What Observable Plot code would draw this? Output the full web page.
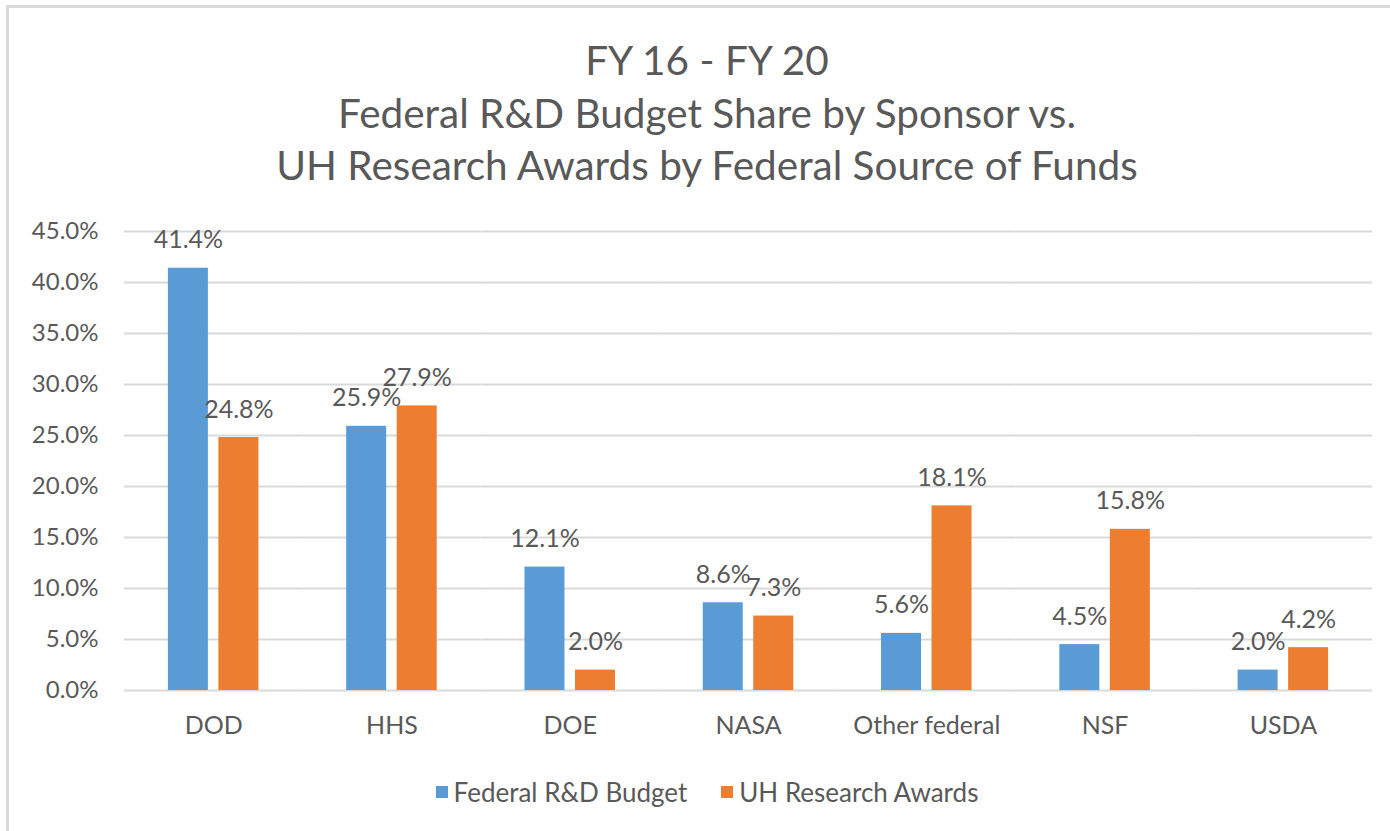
<!DOCTYPE html>
<html>
<head>
<meta charset="utf-8">
<script src="https://cdn.jsdelivr.net/npm/d3@7"></script>
<script src="https://cdn.jsdelivr.net/npm/@observablehq/plot@0.6"></script>
<style>
  html, body { margin: 0; padding: 0; background: #fff; }
  #wrap { position: relative; width: 1390px; height: 831px; overflow: hidden; font-family: Lato, "Noto Sans", sans-serif; color: #595959; }
  #frame { position: absolute; left: 6px; top: 5px; width: 1400px; height: 900px; border-left: 3px solid #d9d9d9; border-top: 3px solid #d9d9d9; box-sizing: border-box; }
  #title { position: absolute; left: 0; top: 34px; width: 1414px; text-align: center; font-size: 40.5px; line-height: 52.5px; }
  #chart { position: absolute; left: 0; top: 200px; }
  #legend { position: absolute; left: 0; top: 772px; width: 1414px; text-align: center; font-size: 26px; line-height: 32px; }
  .key { display: inline-flex; align-items: center; margin: 0 17px; }
  .sw { width: 12px; height: 12px; display: inline-block; margin-right: 6px; }
</style>
</head>
<body>
<div id="wrap">
  <div id="frame"></div>
  <div id="title">FY 16 - FY 20<br>Federal R&amp;D Budget Share by Sponsor vs.<br>UH Research Awards by Federal Source of Funds</div>
  <div id="chart"></div>
  <div id="legend"></div>
</div>
<script>
const sponsors = ["DOD", "HHS", "DOE", "NASA", "Other federal", "NSF", "USDA"];
const seriesNames = ["Federal R&D Budget", "UH Research Awards"];
const federalBudget = [41.4, 25.9, 12.1, 8.6, 5.6, 4.5, 2.0];
const uhAwards = [24.8, 27.9, 2.0, 7.3, 18.1, 15.8, 4.2];
const yTicks = [0, 5, 10, 15, 20, 25, 30, 35, 40, 45];
const colors = ["#5B9BD5", "#ED7D31"];

const data = [];
sponsors.forEach((s, i) => {
  data.push({sponsor: s, series: seriesNames[0], value: federalBudget[i]});
  data.push({sponsor: s, series: seriesNames[1], value: uhAwards[i]});
});

const chart = Plot.plot({
  width: 1390,
  height: 545,
  marginTop: 31,
  marginBottom: 55,
  marginLeft: 124,
  marginRight: 18,
  style: {fontFamily: "Lato, 'Noto Sans', sans-serif", color: "#595959", background: "transparent"},
  fx: {domain: sponsors, padding: 0, round: false, label: null},
  x: {domain: seriesNames, paddingInner: 0.208, paddingOuter: 0.869, round: false, axis: null},
  y: {domain: [0, 45], label: null},
  color: {domain: seriesNames, range: colors},
  facet: {data, x: "sponsor"},
  marks: [
    Plot.gridY(yTicks, {stroke: "#d9d9d9", strokeOpacity: 1, strokeWidth: 2}),
    Plot.axisY(yTicks, {tickSize: 0, tickPadding: 26, tickFormat: d => d.toFixed(1) + "%", fontSize: 24, fill: "#595959", label: null}),
    Plot.axisFx({anchor: "bottom", tickSize: 0, tickPadding: 26, fontSize: 25, fill: "#595959", label: null}),
    Plot.barY(data, {x: "series", y: "value", fill: "series"}),
    Plot.text(data, {x: "series", y: "value", text: d => d.value.toFixed(1) + "%", dy: -28, fill: "#595959", fontSize: 25})
  ]
});
document.getElementById("chart").appendChild(chart);

const legend = document.getElementById("legend");
seriesNames.forEach((n, i) => {
  const k = document.createElement("span");
  k.className = "key";
  const sw = document.createElement("span");
  sw.className = "sw";
  sw.style.background = colors[i];
  k.appendChild(sw);
  k.appendChild(document.createTextNode(n));
  legend.appendChild(k);
});
</script>
</body>
</html>
